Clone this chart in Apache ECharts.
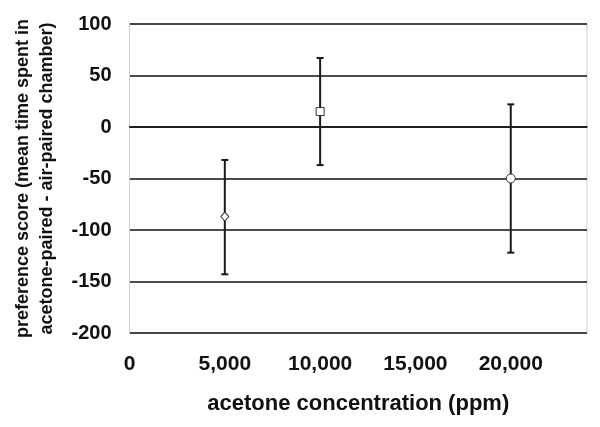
<!DOCTYPE html>
<html>
<head>
<meta charset="utf-8">
<script src="https://cdn.jsdelivr.net/npm/echarts@6/dist/echarts.min.js"></script>
<style>html,body{margin:0;padding:0;background:#fff}#c{width:600px;height:427px}</style>
</head>
<body>
<div id="c"></div>
<script>
var concentrations = [5000, 10000, 20000];
var means = [-87, 15, -50];
var upper = [-32, 67, 22];
var lower = [-143, -37, -122];
var symbols = ['diamond', 'rect', 'circle'];
var symbolSizes = [[8, 9], 8, 9];
var yTicks = [-200, -150, -100, -50, 0, 50, 100];

var FONT = '"Liberation Sans", Arial, sans-serif';
var chart = echarts.init(document.getElementById('c'), null, {renderer: 'canvas'});

var errData = concentrations.map(function (x, i) { return [x, lower[i], upper[i]]; });
var ptData = concentrations.map(function (x, i) {
  return {value: [x, means[i]], symbol: symbols[i], symbolSize: symbolSizes[i]};
});

chart.setOption({
  animation: false,
  backgroundColor: '#fff',
  grid: {left: 129.5, right: 13, top: 24, bottom: 94, show: true, borderColor: '#cfcfcf', borderWidth: 1},
  xAxis: {
    type: 'value', min: 0, max: 24000, interval: 5000,
    name: 'acetone concentration (ppm)', nameLocation: 'middle', nameGap: 60,
    nameTextStyle: {fontFamily: FONT, fontWeight: 'bold', fontSize: 22, color: '#111'},
    axisLine: {show: true, lineStyle: {color: '#111', width: 1.5}},
    axisTick: {show: false},
    splitLine: {show: false},
    axisLabel: {
      showMaxLabel: false, margin: 21,
      fontFamily: FONT, fontWeight: 'bold', fontSize: 21, color: '#111',
      formatter: function (v) { return v.toLocaleString('en-US'); }
    }
  },
  yAxis: {
    type: 'value', min: yTicks[0], max: yTicks[yTicks.length - 1], interval: 50,
    name: 'preference score (mean time spent in\nacetone-paired - air-paired chamber)',
    nameLocation: 'middle', nameGap: 70,
    nameTextStyle: {fontFamily: FONT, fontWeight: 'bold', fontSize: 18, lineHeight: 24, color: '#111'},
    axisLine: {show: true, lineStyle: {color: '#cfcfcf', width: 1}},
    axisTick: {show: false},
    splitLine: {show: true, lineStyle: {color: '#111', width: 1.5}},
    axisLabel: {margin: 18, fontFamily: FONT, fontWeight: 'bold', fontSize: 20, color: '#111'}
  },
  series: [
    {
      type: 'custom',
      data: errData,
      z: 3,
      renderItem: function (params, api) {
        var x = api.value(0);
        var lo = api.coord([x, api.value(1)]);
        var hi = api.coord([x, api.value(2)]);
        var cap = 3.5;
        var style = {stroke: '#1a1a1a', lineWidth: 2};
        return {
          type: 'group',
          children: [
            {type: 'line', shape: {x1: hi[0], y1: hi[1], x2: lo[0], y2: lo[1]}, style: style},
            {type: 'line', shape: {x1: hi[0] - cap, y1: hi[1], x2: hi[0] + cap, y2: hi[1]}, style: style},
            {type: 'line', shape: {x1: lo[0] - cap, y1: lo[1], x2: lo[0] + cap, y2: lo[1]}, style: style}
          ]
        };
      }
    },
    {
      type: 'scatter',
      data: ptData,
      z: 5,
      itemStyle: {color: '#fff', borderColor: '#333', borderWidth: 1, opacity: 1}
    }
  ]
});
</script>
</body>
</html>
